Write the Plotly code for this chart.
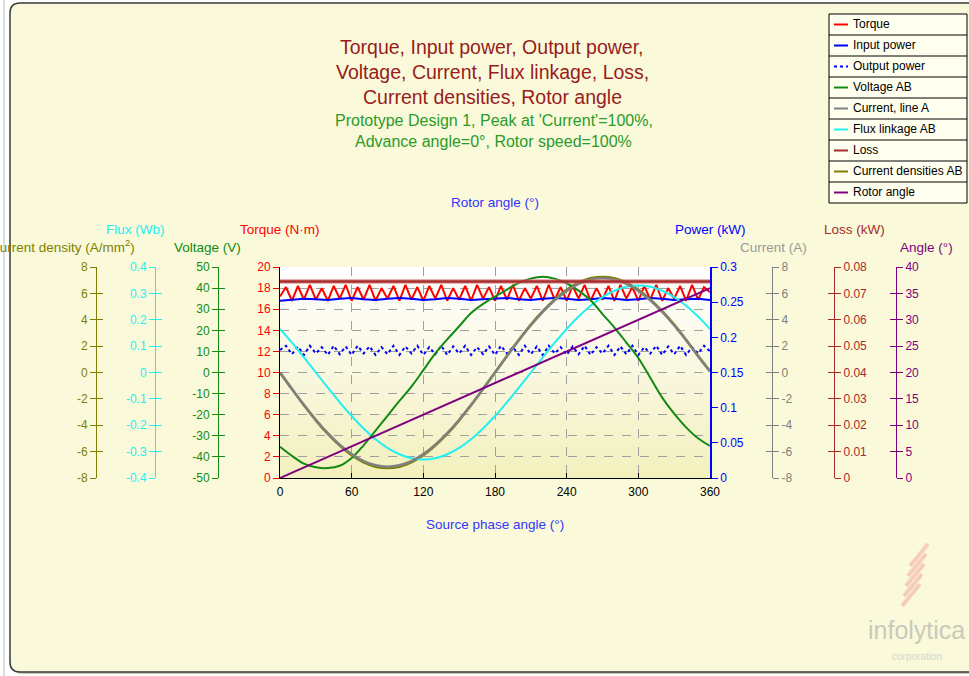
import plotly.graph_objects as go

W, H = 969, 676
FONT = "Liberation Sans, Arial, sans-serif"


def fx(p):
    return p / W


def fy(p):
    return 1 - p / H


# ---------------- data ----------------
phase_5 = list(range(0, 361, 5))
phase_10 = list(range(0, 361, 10))

torque = [17.2, 18.1, 16.8, 18.2, 16.9, 18.3, 16.9, 18.0, 16.8, 18.2,
          17.0, 18.3, 16.8, 18.1, 16.9, 18.3, 16.8, 18.0, 17.0, 18.2,
          16.8, 18.3, 16.9, 18.1, 16.8, 18.2, 17.0, 18.3, 16.8, 18.0,
          16.9, 18.2, 16.8, 18.3, 17.0, 18.1, 16.8, 18.2, 16.9, 18.3,
          16.8, 18.0, 17.0, 18.2, 16.8, 18.3, 16.9, 18.1, 16.8, 18.2,
          17.0, 18.3, 16.8, 18.0, 16.9, 18.2, 16.8, 18.3, 17.0, 18.1,
          16.8, 18.2, 16.9, 18.3, 16.8, 18.0, 17.0, 18.2, 16.8, 18.3,
          16.9, 18.1, 17.6]

input_power = [0.252, 0.254, 0.255, 0.254, 0.253, 0.255, 0.256, 0.254, 0.253, 0.255,
               0.256, 0.255, 0.253, 0.254, 0.256, 0.255, 0.253, 0.254, 0.255, 0.256,
               0.254, 0.253, 0.255, 0.256, 0.255, 0.253, 0.254, 0.256, 0.255, 0.253,
               0.254, 0.256, 0.255, 0.253, 0.254, 0.255, 0.253]

output_power = [0.182, 0.188, 0.176, 0.187, 0.175, 0.188, 0.177, 0.186, 0.175, 0.188,
                0.176, 0.187, 0.175, 0.188, 0.177, 0.187, 0.175, 0.186, 0.176, 0.188,
                0.175, 0.187, 0.177, 0.188, 0.175, 0.186, 0.176, 0.188, 0.175, 0.187,
                0.177, 0.188, 0.175, 0.186, 0.176, 0.187, 0.175, 0.188, 0.177, 0.186,
                0.175, 0.188, 0.176, 0.187, 0.175, 0.188, 0.177, 0.186, 0.175, 0.187,
                0.176, 0.188, 0.175, 0.186, 0.177, 0.188, 0.175, 0.187, 0.176, 0.188,
                0.175, 0.186, 0.177, 0.188, 0.175, 0.187, 0.176, 0.188, 0.175, 0.186,
                0.177, 0.188, 0.180]

voltage = [-35.2, -39.5, -43.2, -44.9, -45.3, -44.2, -40.5, -34.5, -27.5, -20.5,
           -13.5, -6.7, 1.1, 9.1, 15.7, 21.9, 28.2, 32.5, 36.0, 39.3,
           42.5, 44.5, 45.4, 44.5, 42.3, 38.8, 34.2, 27.7, 21.3, 14.2,
           6.9, -2.5, -11.9, -19.5, -26.0, -31.2, -34.8]

current = [0, -1.24, -2.45, -3.58, -4.6, -5.48, -6.19, -6.72, -7.04, -7.15,
           -7.04, -6.72, -6.19, -5.48, -4.6, -3.58, -2.45, -1.24, 0, 1.24,
           2.45, 3.58, 4.6, 5.48, 6.19, 6.72, 7.04, 7.15, 7.04, 6.72,
           6.19, 5.48, 4.6, 3.58, 2.45, 1.24, 0.1]

flux = [0.165, 0.113, 0.057, 0.0, -0.057, -0.113, -0.165, -0.212, -0.253, -0.286,
        -0.31, -0.325, -0.33, -0.325, -0.31, -0.286, -0.253, -0.212, -0.165, -0.113,
        -0.057, 0.0, 0.057, 0.113, 0.165, 0.212, 0.253, 0.286, 0.31, 0.325,
        0.33, 0.325, 0.31, 0.286, 0.253, 0.212, 0.165]

current_density = [0, -1.26, -2.48, -3.63, -4.66, -5.55, -6.28, -6.81, -7.14, -7.25,
                   -7.14, -6.81, -6.28, -5.55, -4.66, -3.63, -2.48, -1.26, 0, 1.26,
                   2.48, 3.63, 4.66, 5.55, 6.28, 6.81, 7.14, 7.25, 7.14, 6.81,
                   6.28, 5.55, 4.66, 3.63, 2.48, 1.26, 0.1]

loss_x = [0, 360]
loss = [0.0745, 0.0745]

rotor_x = [0, 360]
rotor_angle = [0, 36]

# tick labels
phase_ticks = [0, 60, 120, 180, 240, 300, 360]
torque_ticks = [0, 2, 4, 6, 8, 10, 12, 14, 16, 18, 20]
power_ticks = [0, 0.05, 0.1, 0.15, 0.2, 0.25, 0.3]
power_labels = ["0", "0.05", "0.1", "0.15", "0.2", "0.25", "0.3"]
cd_ticks = [-8, -6, -4, -2, 0, 2, 4, 6, 8]
cd_labels = ["-8", "-6", "-4", "-2", "0", "2", "4", "6", "8"]
flux_ticks = [-0.4, -0.3, -0.2, -0.1, 0, 0.1, 0.2, 0.3, 0.4]
flux_labels = ["-0.4", "-0.3", "-0.2", "-0.1", "0", "0.1", "0.2", "0.3", "0.4"]
volt_ticks = [-50, -40, -30, -20, -10, 0, 10, 20, 30, 40, 50]
volt_labels = ["-50", "-40", "-30", "-20", "-10", "0", "10", "20", "30", "40", "50"]
current_ticks = [-8, -6, -4, -2, 0, 2, 4, 6, 8]
current_labels = ["-8", "-6", "-4", "-2", "0", "2", "4", "6", "8"]
loss_ticks = [0, 0.01, 0.02, 0.03, 0.04, 0.05, 0.06, 0.07, 0.08]
loss_labels = ["0", "0.01", "0.02", "0.03", "0.04", "0.05", "0.06", "0.07", "0.08"]
angle_ticks = [0, 5, 10, 15, 20, 25, 30, 35, 40]

legend_names = ["Torque", "Input power", "Output power", "Voltage AB", "Current, line A",
                "Flux linkage AB", "Loss", "Current densities AB", "Rotor angle"]

# colours
C_TORQUE = "#FF0000"
C_POWER = "#0000FF"
C_VOLT = "#138A13"
C_CURR = "#808080"
C_FLUX = "#22F0F0"
C_LOSS = "#A82A2A"
C_CD = "#808000"
C_ANGLE = "#800080"

fig = go.Figure()

fig.add_trace(go.Scatter(x=phase_5, y=torque, mode="lines", name="Torque",
                         line=dict(color=C_TORQUE, width=2), yaxis="y", showlegend=False))
fig.add_trace(go.Scatter(x=phase_10, y=input_power, mode="lines", name="Input power",
                         line=dict(color=C_POWER, width=2), yaxis="y2", showlegend=False))
fig.add_trace(go.Scatter(x=phase_5, y=output_power, mode="lines", name="Output power",
                         line=dict(color=C_POWER, width=2, dash="dot"), yaxis="y2", showlegend=False))
fig.add_trace(go.Scatter(x=phase_10, y=current_density, mode="lines", name="Current densities AB",
                         line=dict(color=C_CD, width=2.5, shape="spline"), yaxis="y3", showlegend=False))
fig.add_trace(go.Scatter(x=phase_10, y=flux, mode="lines", name="Flux linkage AB",
                         line=dict(color=C_FLUX, width=2, shape="spline"), yaxis="y4", showlegend=False))
fig.add_trace(go.Scatter(x=phase_10, y=voltage, mode="lines", name="Voltage AB",
                         line=dict(color=C_VOLT, width=2, shape="spline"), yaxis="y5", showlegend=False))
fig.add_trace(go.Scatter(x=phase_10, y=current, mode="lines", name="Current, line A",
                         line=dict(color=C_CURR, width=2.5, shape="spline"), yaxis="y6", showlegend=False))
fig.add_trace(go.Scatter(x=loss_x, y=loss, mode="lines", name="Loss",
                         line=dict(color="rgba(200,110,110,0.5)", width=5), yaxis="y7", showlegend=False,
                         hoverinfo="skip"))
fig.add_trace(go.Scatter(x=loss_x, y=loss, mode="lines", name="Loss",
                         line=dict(color=C_LOSS, width=2.5), yaxis="y7", showlegend=False))
fig.add_trace(go.Scatter(x=rotor_x, y=rotor_angle, mode="lines", name="Rotor angle",
                         line=dict(color=C_ANGLE, width=2), yaxis="y8", showlegend=False))

# invisible copies so that the tick-twin axes get drawn
for ax, xs, ys in [("y9", phase_10, current_density), ("y10", phase_10, flux),
                   ("y11", phase_10, voltage), ("y12", phase_10, current),
                   ("y13", loss_x, loss), ("y14", rotor_x, rotor_angle)]:
    fig.add_trace(go.Scatter(x=xs, y=ys, mode="lines", yaxis=ax, showlegend=False,
                             line=dict(color="rgba(0,0,0,0)", width=0), hoverinfo="skip"))

tickfont = lambda c: dict(color=c, size=12, family=FONT)
x0d, x1d = fx(280), fx(710)
ydom = [fy(478), fy(267)]


def free_axis(pos, side, rng, tv, tt, color, twin=False):
    d = dict(overlaying="y", anchor="free", position=pos, side=side, range=rng,
             tickmode="array", tickvals=tv, showgrid=False, zeroline=False,
             tickcolor=color, ticklen=6, tickwidth=1, fixedrange=True, automargin=False)
    if twin:
        d.update(ticks="inside", showticklabels=False, showline=False)
    else:
        d.update(ticks="outside", ticktext=tt, tickfont=tickfont(color), showline=True,
                 linecolor=color, linewidth=1)
    return d


layout = dict(
    width=W, height=H, autosize=False,
    margin=dict(l=0, r=0, t=0, b=0, pad=0, autoexpand=False),
    paper_bgcolor="#FFFFFF",
    plot_bgcolor="rgba(0,0,0,0)",
    showlegend=False,
    font=dict(family=FONT),
    xaxis=dict(domain=[x0d, x1d], range=[0, 360], tickmode="array", tickvals=phase_ticks,
               ticktext=[str(v) for v in phase_ticks], ticks="inside", ticklen=5,
               tickcolor="#000000", showline=True, linecolor="#000000", linewidth=1,
               showgrid=True, gridcolor="#A0A0A0", griddash="dash", gridwidth=1,
               zeroline=False, tickfont=tickfont("#000000"), anchor="y", fixedrange=True,
               automargin=False, ticklabelstandoff=3),
    xaxis2=dict(overlaying="x", side="top", range=[0, 36], tickmode="array", tickvals=[0],
                ticktext=["0"], ticks="outside", ticklen=5, tickcolor="rgba(0,0,0,0)",
                showline=True, linecolor="#000000", linewidth=1, showgrid=False,
                zeroline=False, tickfont=tickfont("#000000"), anchor="y", fixedrange=True,
                automargin=False),
    yaxis=dict(domain=ydom, range=[0, 20], tickmode="array", tickvals=torque_ticks,
               ticktext=[str(v) for v in torque_ticks], ticks="outside", ticklen=6,
               tickcolor=C_TORQUE, tickfont=tickfont(C_TORQUE), showline=True,
               linecolor="#000000", linewidth=1, showgrid=True, gridcolor="#A0A0A0",
               griddash="dash", zeroline=False, anchor="x", fixedrange=True, automargin=False),
    yaxis2=dict(overlaying="y", side="right", anchor="x", range=[0, 0.3], tickmode="array",
                tickvals=power_ticks, ticktext=power_labels, ticks="outside", ticklen=6,
                tickcolor=C_POWER, tickfont=tickfont(C_POWER), showline=True,
                linecolor=C_POWER, linewidth=1.5, showgrid=False, zeroline=False,
                fixedrange=True, automargin=False),
    yaxis3=free_axis(fx(96), "left", [-8, 8], cd_ticks, cd_labels, C_CD),
    yaxis4=free_axis(fx(155), "left", [-0.4, 0.4], flux_ticks, flux_labels, C_FLUX),
    yaxis5=free_axis(fx(218), "left", [-50, 50], volt_ticks, volt_labels, C_VOLT),
    yaxis6=free_axis(fx(772), "right", [-8, 8], current_ticks, current_labels, C_CURR),
    yaxis7=free_axis(fx(834), "right", [0, 0.08], loss_ticks, loss_labels, C_LOSS),
    yaxis8=free_axis(fx(896), "right", [0, 40], angle_ticks, [str(v) for v in angle_ticks], C_ANGLE),
    yaxis9=free_axis(fx(96), "left", [-8, 8], cd_ticks, cd_labels, C_CD, twin=True),
    yaxis10=free_axis(fx(155), "left", [-0.4, 0.4], flux_ticks, flux_labels, C_FLUX, twin=True),
    yaxis11=free_axis(fx(218), "left", [-50, 50], volt_ticks, volt_labels, C_VOLT, twin=True),
    yaxis12=free_axis(fx(772), "right", [-8, 8], current_ticks, current_labels, C_CURR, twin=True),
    yaxis13=free_axis(fx(834), "right", [0, 0.08], loss_ticks, loss_labels, C_LOSS, twin=True),
    yaxis14=free_axis(fx(896), "right", [0, 40], angle_ticks, [str(v) for v in angle_ticks], C_ANGLE, twin=True),
)

shapes = []

# outer light strip line
shapes.append(dict(type="line", xref="paper", yref="paper", x0=fx(4), x1=fx(4), y0=fy(0), y1=fy(676),
                   line=dict(color="#B8B8B0", width=1), layer="below"))


# rounded panel
def rounded(xa, ya, xb, yb, r):
    pts = (f"M {fx(xa)},{fy(ya + r)} Q {fx(xa)},{fy(ya)} {fx(xa + r)},{fy(ya)} "
           f"L {fx(xb - r)},{fy(ya)} Q {fx(xb)},{fy(ya)} {fx(xb)},{fy(ya + r)} "
           f"L {fx(xb)},{fy(yb - r)} Q {fx(xb)},{fy(yb)} {fx(xb - r)},{fy(yb)} "
           f"L {fx(xa + r)},{fy(yb)} Q {fx(xa)},{fy(yb)} {fx(xa)},{fy(yb - r)} Z")
    return pts


shapes.append(dict(type="path", xref="paper", yref="paper", path=rounded(12, 5, 1000, 674, 10),
                   fillcolor="#C8C8B8", line=dict(width=0), layer="below"))
shapes.append(dict(type="path", xref="paper", yref="paper", path=rounded(10, 3, 1000, 672, 10),
                   fillcolor="#FAFADA", line=dict(color="#3A3A3A", width=1.5), layer="below"))

# plot-area gradient (white -> pale yellow)
nb = 30
top, bot = 267, 478
c0 = (255, 255, 255)
c1 = (243, 240, 190)
for i in range(nb):
    t = i / (nb - 1)
    col = tuple(int(round(c0[k] + (c1[k] - c0[k]) * t)) for k in range(3))
    ya = top + (bot - top) * i / nb
    yb = top + (bot - top) * (i + 1) / nb
    shapes.append(dict(type="rect", xref="paper", yref="paper", x0=fx(280), x1=fx(710),
                       y0=fy(yb + 0.5), y1=fy(ya), fillcolor="rgb(%d,%d,%d)" % col,
                       line=dict(width=0), layer="below"))

# legend box (manual)
LX0, LY0, LX1, LY1 = 829, 14, 967, 203
row_h = (LY1 - LY0) / 9
shapes.append(dict(type="rect", xref="paper", yref="paper", x0=fx(LX0), x1=fx(LX1), y0=fy(LY1), y1=fy(LY0),
                   fillcolor="#FFFFF0", line=dict(color="#000000", width=1), layer="above"))
for k in range(1, 9):
    yy = LY0 + k * row_h
    shapes.append(dict(type="line", xref="paper", yref="paper", x0=fx(LX0), x1=fx(LX1), y0=fy(yy), y1=fy(yy),
                       line=dict(color="#000000", width=1), layer="above"))
legend_colors = [C_TORQUE, C_POWER, C_POWER, C_VOLT, C_CURR, C_FLUX, C_LOSS, C_CD, C_ANGLE]
legend_dash = ["solid", "solid", "dot", "solid", "solid", "solid", "solid", "solid", "solid"]
annotations = []
for k, (nm, col, ds) in enumerate(zip(legend_names, legend_colors, legend_dash)):
    yc = LY0 + (k + 0.5) * row_h
    shapes.append(dict(type="line", xref="paper", yref="paper", x0=fx(834), x1=fx(848), y0=fy(yc), y1=fy(yc),
                       line=dict(color=col, width=2, dash=ds), layer="above"))
    annotations.append(dict(text=nm, x=fx(851), y=fy(yc), xref="paper", yref="paper", showarrow=False,
                            xanchor="left", yanchor="middle",
                            font=dict(color="#000000", size=12, family=FONT)))

# logo stripes
for k in range(5):
    xs = 902 + 2 * k
    ys = 606 - 10 * k
    shapes.append(dict(type="line", xref="paper", yref="paper", x0=fx(xs), y0=fy(ys), x1=fx(xs + 18), y1=fy(ys - 22),
                       line=dict(color="#F6CDB8", width=4), layer="below"))


def ann(text, x, y, color, size, xanchor="center"):
    return dict(text=text, x=fx(x), y=fy(y), xref="paper", yref="paper", showarrow=False,
                xanchor=xanchor, yanchor="middle", font=dict(color=color, size=size, family=FONT))


TITLE_C = "#981C1C"
SUB_C = "#2A9A2A"
AX_T = 13.5
annotations += [
    ann("Torque, Input power, Output power,", 492, 47, TITLE_C, 19.5),
    ann("Voltage, Current, Flux linkage, Loss,", 492, 72, TITLE_C, 19.5),
    ann("Current densities, Rotor angle", 492, 97, TITLE_C, 19.5),
    ann("Prototype Design 1, Peak at 'Current'=100%,", 494, 120, SUB_C, 16),
    ann("Advance angle=0°, Rotor speed=100%", 494, 142, SUB_C, 16),
    ann("Rotor angle (°)", 495, 203, "#3333FF", 13.5),
    ann("Source phase angle (°)", 495, 524, "#3333FF", 13.5),
    ann("Flux (Wb)", 135, 229, C_FLUX, AX_T),
    ann("Torque (N·m)", 280, 229, C_TORQUE, AX_T),
    ann("Current density (A/mm<sup>2</sup>)", 137, 246, C_CD, AX_T, xanchor="right"),
    ann("Voltage (V)", 207, 247, C_VOLT, AX_T),
    ann("Power (kW)", 710, 229, C_POWER, AX_T),
    ann("Current (A)", 773, 247, "#999999", AX_T),
    ann("Loss (kW)", 854, 229, C_LOSS, AX_T),
    ann("Angle (°)", 926, 247, C_ANGLE, AX_T),
    ann("infolytica", 866, 630, "#CACABA", 25, xanchor="left"),
    ann("corporation", 917, 656, "#D6D6C6", 10),
]

layout["shapes"] = shapes
layout["annotations"] = annotations
fig.update_layout(**layout)

fig.write_html("out.html")
